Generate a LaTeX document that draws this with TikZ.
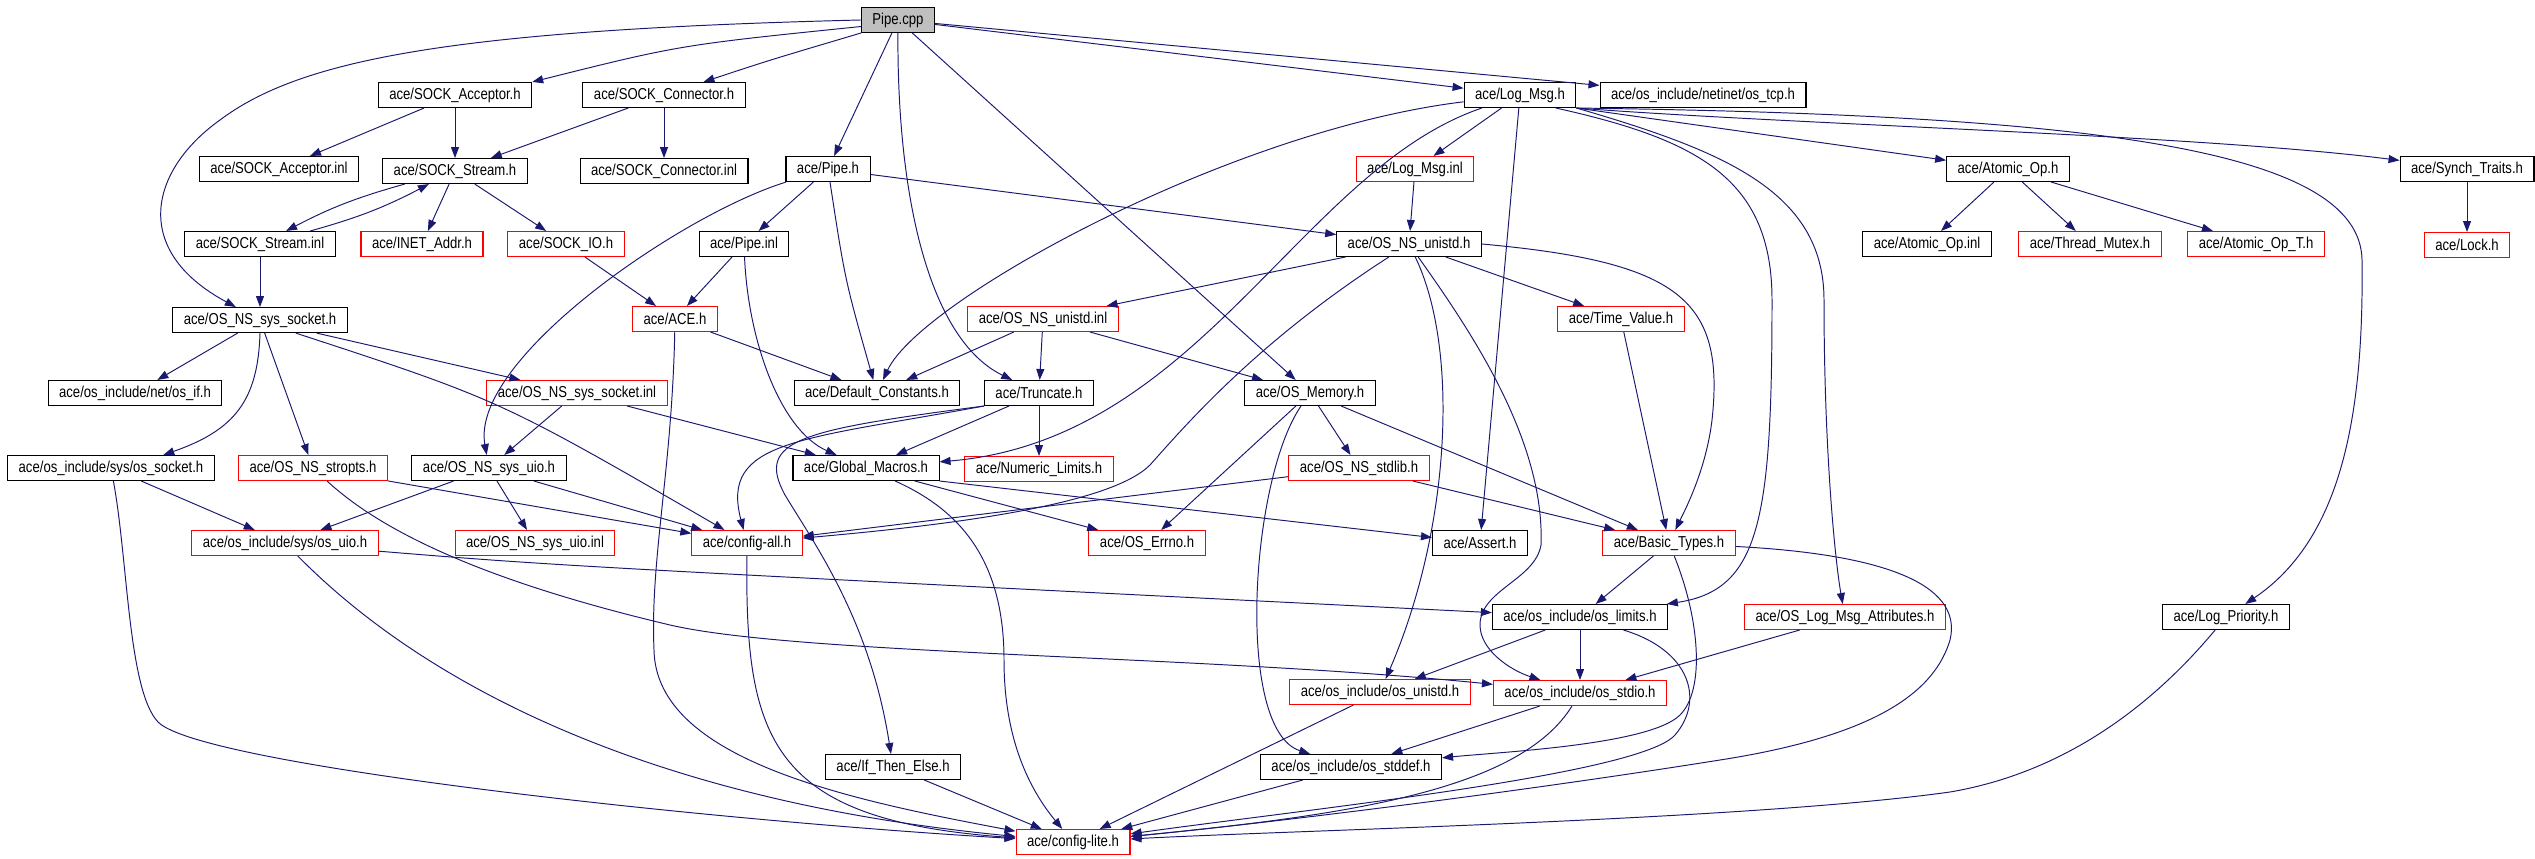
\documentclass[tikz,border=0pt]{standalone}
\usepackage{fontspec}
\setmainfont{Liberation Sans}[FakeStretch=0.83]
\usetikzlibrary{arrows.meta,positioning}
\definecolor{edgeblue}{HTML}{191970}

\begin{document}
\begin{tikzpicture}[
  x=0.2mm, y=-0.2mm,
  font=\fontsize{9}{10}\selectfont,
  node distance=10mm,
  >={Triangle[length=2.2mm,width=1.6mm]},
  box/.style={draw, line width=0.6pt, inner xsep=2.2mm, inner ysep=1pt, minimum height=5mm},
  redbox/.style={box, draw=red},
  srcbox/.style={box, fill=black!25},
  line/.style={->, draw=edgeblue, line width=0.55pt}
]
\useasboundingbox (0,0) rectangle (2535,859);

% header boxes, row by row
\node[srcbox] (pipecpp) at (898,20) {Pipe.cpp};

\node[box] (sockacc) at (455,95) {ace/SOCK\_Acceptor.h};
\node[box] (sockcon) at (664,95) {ace/SOCK\_Connector.h};
\node[box] (logmsg) at (1520,95) {ace/Log\_Msg.h};
\node[box] (ostcp) at (1703,95) {ace/os\_include/netinet/os\_tcp.h};

\node[box] (sockaccinl) at (279,169) {ace/SOCK\_Acceptor.inl};
\node[box, below=of sockacc] (sockstream) {ace/SOCK\_Stream.h};
\node[box, below=of sockcon] (sockconinl) {ace/SOCK\_Connector.inl};
\node[box] (pipeh) at (828,169) {ace/Pipe.h};
\node[redbox] (logmsginl) at (1415,169) {ace/Log\_Msg.inl};
\node[box] (atomicop) at (2008,169) {ace/Atomic\_Op.h};
\node[box] (synch) at (2467,169) {ace/Synch\_Traits.h};

\node[box] (sockstreaminl) at (260,244) {ace/SOCK\_Stream.inl};
\node[redbox] (inetaddr) at (422,244) {ace/INET\_Addr.h};
\node[redbox] (sockio) at (566,244) {ace/SOCK\_IO.h};
\node[box] (pipeinl) at (744,244) {ace/Pipe.inl};
\node[box] (osunistd) at (1409,244) {ace/OS\_NS\_unistd.h};
\node[box] (atomicopinl) at (1927,244) {ace/Atomic\_Op.inl};
\node[redbox] (threadmutex) at (2090,244) {ace/Thread\_Mutex.h};
\node[redbox] (atomicopt) at (2256,244) {ace/Atomic\_Op\_T.h};
\node[redbox, below=of synch] (lock) {ace/Lock.h};

\node[box, below=of sockstreaminl] (syssocket) {ace/OS\_NS\_sys\_socket.h};
\node[redbox] (ace) at (675,319) {ace/ACE.h};
\node[redbox] (osunistdinl) at (1043,319) {ace/OS\_NS\_unistd.inl};
\node[redbox] (timevalue) at (1621,319) {ace/Time\_Value.h};

\node[box] (osif) at (135,393) {ace/os\_include/net/os\_if.h};
\node[redbox] (syssocketinl) at (577,393) {ace/OS\_NS\_sys\_socket.inl};
\node[box] (defconst) at (877,393) {ace/Default\_Constants.h};
\node[box] (truncate) at (1039,393) {ace/Truncate.h};
\node[box] (osmemory) at (1310,393) {ace/OS\_Memory.h};

\node[box] (ossocket) at (111,468) {ace/os\_include/sys/os\_socket.h};
\node[redbox] (stropts) at (313,468) {ace/OS\_NS\_stropts.h};
\node[box] (sysuio) at (489,468) {ace/OS\_NS\_sys\_uio.h};
\node[box] (globalmacros) at (866,468) {ace/Global\_Macros.h};
\node[redbox, below=of truncate] (numlimits) {ace/Numeric\_Limits.h};
\node[redbox] (stdlib) at (1359,468) {ace/OS\_NS\_stdlib.h};

\node[redbox] (osuio) at (285,543) {ace/os\_include/sys/os\_uio.h};
\node[redbox] (sysuioinl) at (535,543) {ace/OS\_NS\_sys\_uio.inl};
\node[redbox] (configall) at (747,543) {ace/config-all.h};
\node[redbox] (oserrno) at (1147,543) {ace/OS\_Errno.h};
\node[box] (assert) at (1480,543) {ace/Assert.h};
\node[redbox] (basictypes) at (1669,543) {ace/Basic\_Types.h};

\node[box] (oslimits) at (1580,617) {ace/os\_include/os\_limits.h};
\node[redbox] (logattr) at (1845,617) {ace/OS\_Log\_Msg\_Attributes.h};
\node[box] (logprio) at (2226,617) {ace/Log\_Priority.h};

\node[redbox] (osunistdh) at (1380,692) {ace/os\_include/os\_unistd.h};
\node[redbox, below=of oslimits] (osstdio) {ace/os\_include/os\_stdio.h};

\node[box] (ifthen) at (893,767) {ace/If\_Then\_Else.h};
\node[box] (osstddef) at (1351,767) {ace/os\_include/os\_stddef.h};

\node[redbox] (configlite) at (1073,842) {ace/config-lite.h};

% includes of Pipe.cpp
\draw[line] (pipecpp.190) .. controls (680,45) .. (sockacc.north east);
\draw[line] (pipecpp.south west) .. controls (770,60) .. (sockcon);
\draw[line] (pipecpp.west) .. controls (450,30) and (300,60) .. (220,120) .. controls (150,170) and (130,250) .. (syssocket);
\draw[line] (pipecpp) -- (pipeh);
\draw[line] (pipecpp) .. controls (897,200) and (930,340) .. (truncate);
\draw[line] (pipecpp) -- (osmemory);
\draw[line] (pipecpp) -- (logmsg);
\draw[line] (pipecpp) -- (ostcp);

\draw[line] (sockacc) -- (sockaccinl);
\draw[line] (sockacc) -- (sockstream);
\draw[line] (sockcon) -- (sockstream);
\draw[line] (sockcon) -- (sockconinl);
\draw[line] (sockstream) to[bend right=6] (sockstreaminl);
\draw[line] (sockstreaminl) to[bend right=6] (sockstream);
\draw[line] (sockstream) -- (inetaddr);
\draw[line] (sockstream) -- (sockio);
\draw[line] (sockstreaminl) -- (syssocket);
\draw[line] (sockio) -- (ace);

\draw[line] (pipeh) -- (pipeinl);
\draw[line] (pipeh) .. controls (680,215) and (470,360) .. (sysuio);
\draw[line] (pipeh) .. controls (845,280) .. (defconst);
\draw[line] (pipeh) -- (osunistd);
\draw[line] (pipeinl) -- (ace);
\draw[line] (pipeinl) .. controls (748,340) and (780,430) .. (globalmacros);
\draw[line] (ace) -- (defconst);
\draw[line] (ace) .. controls (672,470) and (650,560) .. (654,650) .. controls (656,760) and (850,800) .. (configlite);

\draw[line] (syssocket) -- (osif);
\draw[line] (syssocket) -- (syssocketinl);
\draw[line] (syssocket.south) .. controls (258,400) and (235,430) .. (ossocket.14);
\draw[line] (syssocket) -- (stropts);
\draw[line] (syssocket.-20) .. controls (500,400) .. (configall);
\draw[line] (syssocketinl) -- (sysuio);
\draw[line] (syssocketinl) -- (globalmacros);

% Log_Msg.h and its fan-out
\draw[line] (logmsg) .. controls (1230,130) and (920,300) .. (defconst);
\draw[line] (logmsg) .. controls (1300,170) and (1200,440) .. (globalmacros);
\draw[line] (logmsg) -- (logmsginl);
\draw[line] (logmsg) -- (assert);
\draw[line] (logmsg.south east) -- (atomicop);
\draw[line] (logmsg.south east) .. controls (1800,125) and (2200,135) .. (synch);
\draw[line] (logmsg.south east) .. controls (2100,115) and (2360,150) .. (2362,260) .. controls (2364,420) and (2340,540) .. (logprio);
\draw[line] (logmsg.-20) .. controls (1700,140) and (1772,180) .. (1772,300) .. controls (1772,520) and (1760,590) .. (oslimits);
\draw[line] (logmsg.south east) .. controls (1720,150) and (1824,190) .. (1824,300) .. controls (1824,450) and (1835,560) .. (logattr);
\draw[line] (logmsginl) -- (osunistd);

\draw[line] (osunistd) -- (osunistdinl);
\draw[line] (osunistd) .. controls (1260,340) and (1190,420) .. (1150,465) .. controls (1110,505) and (950,525) .. (configall);
\draw[line] (osunistd) -- (timevalue);
\draw[line] (osunistd.east) .. controls (1680,262) and (1725,300) .. (1712,420) .. controls (1706,470) and (1685,510) .. (basictypes);
\draw[line] (osunistd) .. controls (1460,350) and (1450,530) .. (osunistdh);
\draw[line] (osunistd) .. controls (1470,330) and (1545,440) .. (1541,545) .. controls (1535,580) and (1480,590) .. (1480,625) .. controls (1480,650) and (1510,670) .. (osstdio);
\draw[line] (osunistdinl) -- (defconst);
\draw[line] (osunistdinl) -- (truncate);
\draw[line] (osunistdinl) -- (osmemory);
\draw[line] (timevalue) -- (basictypes);

\draw[line] (truncate) -- (globalmacros);
\draw[line] (truncate) -- (numlimits);
\draw[line] (truncate.south west) .. controls (800,440) and (720,440) .. (configall);
\draw[line] (truncate.south west) .. controls (800,430) and (755,440) .. (785,495) .. controls (815,545) and (870,620) .. (ifthen);
\draw[line] (globalmacros) -- (oserrno);
\draw[line] (globalmacros.south east) -- (assert);
\draw[line] (globalmacros) .. controls (960,510) and (1004,560) .. (1004,660) .. controls (1004,740) and (1030,790) .. (configlite);

\draw[line] (osmemory) -- (oserrno);
\draw[line] (osmemory) -- (stdlib);
\draw[line] (osmemory) -- (basictypes);
\draw[line] (osmemory) .. controls (1250,480) and (1235,730) .. (osstddef);
\draw[line] (stdlib) -- (configall);
\draw[line] (stdlib) -- (basictypes);

\draw[line] (stropts) -- (configall);
\draw[line] (stropts) .. controls (380,530) and (480,580) .. (670,625) .. controls (800,655) and (1200,655) .. (osstdio);
\draw[line] (sysuio) -- (osuio);
\draw[line] (sysuio) -- (sysuioinl);
\draw[line] (sysuio) -- (configall);
\draw[line] (ossocket) -- (osuio);
\draw[line] (ossocket) .. controls (128,560) and (128,690) .. (158,722) .. controls (200,765) and (700,820) .. (configlite);
\draw[line] (osuio) .. controls (420,680) and (640,800) .. (configlite);
\draw[line] (osuio.-5.5) .. controls (560,566) .. (oslimits);
\draw[line] (configall) .. controls (745,740) and (770,820) .. (configlite);

% lower part
\draw[line] (basictypes) -- (oslimits);
\draw[line] (basictypes) .. controls (1700,620) and (1705,690) .. (1680,715) .. controls (1650,745) and (1500,752) .. (osstddef);
\draw[line] (basictypes) .. controls (1900,555) and (1962,590) .. (1950,640) .. controls (1935,690) and (1880,735) .. (1720,760) .. controls (1500,795) and (1250,825) .. (configlite);
\draw[line] (oslimits) -- (osunistdh);
\draw[line] (oslimits) -- (osstdio);
\draw[line] (oslimits) .. controls (1690,650) and (1705,700) .. (1675,735) .. controls (1640,775) and (1300,810) .. (configlite);
\draw[line] (logattr) -- (osstdio);
\draw[line] (logprio) .. controls (2140,720) and (2050,775) .. (1950,792) .. controls (1750,820) and (1300,830) .. (configlite);
\draw[line] (osunistdh) -- (configlite);
\draw[line] (osstdio) -- (osstddef);
\draw[line] (osstdio) .. controls (1520,790) and (1350,815) .. (configlite);
\draw[line] (osstddef) -- (configlite);
\draw[line] (ifthen) -- (configlite);

\draw[line] (atomicop) -- (atomicopinl);
\draw[line] (atomicop) -- (threadmutex);
\draw[line] (atomicop) -- (atomicopt);
\draw[line] (synch) -- (lock);
\end{tikzpicture}
\end{document}
